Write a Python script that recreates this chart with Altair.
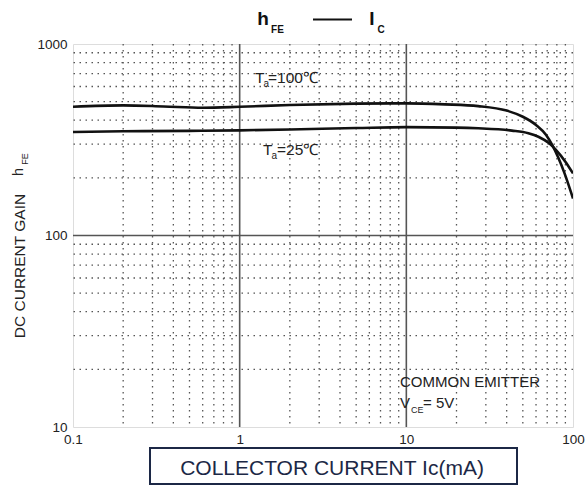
import altair as alt
import pandas as pd

# ---- data ----
ic_100 = [0.1, 0.2, 0.35, 0.6, 1, 2, 5, 10, 17, 27, 40, 50, 60, 69, 75, 89, 100]
hfe_100 = [470, 478, 472, 465, 470, 480, 488, 490, 484, 474, 449, 417, 378, 335, 297, 211, 156]

ic_25 = [0.1, 0.2, 0.5, 1, 2, 5, 10, 20, 27, 43, 54, 62, 72, 79, 90, 100]
hfe_25 = [347, 350, 352, 354, 358, 364, 368, 366, 363, 353, 342, 328, 303, 280, 243, 211]

x_ticks = [0.1, 1, 10, 100]
y_ticks = [10, 100, 1000]
x_major = [1, 10]
y_major = [100]
x_minor = [0.2, 0.3, 0.4, 0.5, 0.6, 0.7, 0.8, 0.9,
           2, 3, 4, 5, 6, 7, 8, 9,
           20, 30, 40, 50, 60, 70, 80, 90]
y_minor = [20, 30, 40, 50, 60, 70, 80, 90,
           200, 300, 400, 500, 600, 700, 800, 900]

FONT = "Liberation Sans"
W, H = 500, 383

curves = pd.concat([
    pd.DataFrame({"ic": ic_100, "hfe": hfe_100, "series": "100"}),
    pd.DataFrame({"ic": ic_25, "hfe": hfe_25, "series": "25"}),
])

xs = alt.Scale(type="log", domain=[0.1, 100], nice=False, zero=False)
ys = alt.Scale(type="log", domain=[10, 1000], nice=False, zero=False)

base = alt.Chart(curves)

lines = base.mark_line(interpolate="monotone", color="#111111", strokeWidth=2.6, clip=True).encode(
    x=alt.X("ic:Q", scale=xs,
            axis=alt.Axis(values=x_ticks, title=None, grid=False, ticks=False, domain=False,
                          labelExpr="format(datum.value, '~g')", labelFont=FONT, labelFontSize=13.5,
                          labelColor="#222222", labelPadding=5, labelOverlap=False,
                          labelFlush=False, labelBound=False)),
    y=alt.Y("hfe:Q", scale=ys,
            axis=alt.Axis(values=y_ticks, title=None, grid=False, ticks=False, domain=False,
                          labelExpr="format(datum.value, '~g')", labelFont=FONT, labelFontSize=13.5,
                          labelColor="#222222", labelPadding=6, labelOverlap=False,
                          labelFlush=False, labelBound=False)),
    detail="series:N",
)

minor_x = alt.Chart(pd.DataFrame({"v": x_minor})).mark_rule(
    color="#555555", strokeWidth=1.3, strokeDash=[1.5, 4.5]).encode(x=alt.X("v:Q", scale=xs))
minor_y = alt.Chart(pd.DataFrame({"v": y_minor})).mark_rule(
    color="#555555", strokeWidth=1.3, strokeDash=[1.5, 4.5]).encode(y=alt.Y("v:Q", scale=ys))
major_x = alt.Chart(pd.DataFrame({"v": x_major})).mark_rule(
    color="#555555", strokeWidth=1.6).encode(x=alt.X("v:Q", scale=xs))
major_y = alt.Chart(pd.DataFrame({"v": y_major})).mark_rule(
    color="#555555", strokeWidth=1.6).encode(y=alt.Y("v:Q", scale=ys))

one = pd.DataFrame({"k": [0]})


def label(txt, x, y, size, align="left", weight="normal", angle=0, color="#222222"):
    kw = dict(font=FONT, fontSize=size, align=align, baseline="alphabetic",
              fontWeight=weight, color=color)
    if angle:
        kw["angle"] = angle
    return alt.Chart(one).mark_text(**kw).encode(
        x=alt.value(x), y=alt.value(y), text=alt.value(txt))


texts = [
    # title h_FE —— I_C
    label("h", 190, -19, 19, align="center", weight="bold", color="#111111"),
    label("FE", 204.5, -11, 10, align="center", weight="bold", color="#111111"),
    label("I", 299, -19, 19, align="center", weight="bold", color="#111111"),
    label("C", 308, -11, 10, align="center", weight="bold", color="#111111"),
    # curve labels
    label("T", 182, 39, 15.5),
    label("a", 190.5, 43, 10),
    label("=100℃", 195, 39, 15.5),
    label("T", 190, 111, 15.5),
    label("a", 198.5, 115, 10),
    label("=25℃", 204, 111, 15.5),
    # conditions
    label("COMMON EMITTER", 327, 343, 15),
    label("V", 327, 364, 15),
    label("CE", 338, 369, 9),
    label("= 5V", 350, 364, 15),
    # y axis title
    label("DC CURRENT GAIN", -48, 222, 15.5, align="center", angle=270),
    label("h", -50, 128, 14.5, align="center", angle=270),
    label("FE", -45, 115, 9, align="center", angle=270),
    # x axis title
    label("COLLECTOR CURRENT Ic(mA)", 259, 431, 21, align="center", color="#1c2846"),
]

dash = alt.Chart(one).mark_rule(color="#111111", strokeWidth=2.2).encode(
    x=alt.value(240), x2=alt.value(279), y=alt.value(-24.5))

box = alt.Chart(one).mark_rect(fillOpacity=0, stroke="#1c2846", strokeWidth=2).encode(
    x=alt.value(77), x2=alt.value(444), y=alt.value(404), y2=alt.value(440))

chart = alt.layer(minor_x, minor_y, major_x, major_y, lines, dash, box, *texts).properties(
    width=W, height=H,
    autosize=alt.AutoSizeParams(type="none"),
    padding={"left": 73, "top": 44, "right": 12, "bottom": 58},
).configure_view(stroke="#555555", strokeWidth=1.6).configure(background="white")

chart.save("out.html", embed_options={"renderer": "svg", "actions": False})
